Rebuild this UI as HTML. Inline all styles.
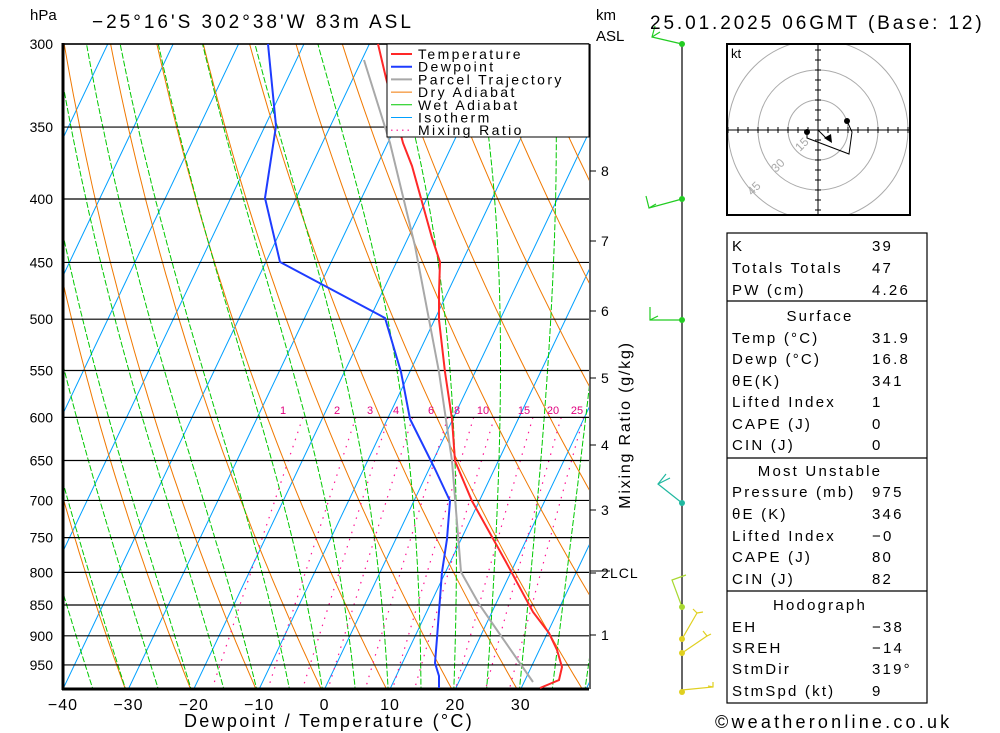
<!DOCTYPE html>
<html><head><meta charset="utf-8"><style>
body{margin:0;background:#fff;width:1000px;height:733px;overflow:hidden}
svg{display:block;font-family:"Liberation Sans",sans-serif}
</style></head><body>
<svg id="s" width="1000" height="733" viewBox="0 0 1000 733" xmlns="http://www.w3.org/2000/svg">
<defs><clipPath id="c"><rect x="63" y="44" width="526" height="645"/></clipPath></defs>
<g id="bg" clip-path="url(#c)"></g>
<g id="fg"></g>
<text x="30" y="20" font-size="15">hPa</text>
<text x="92" y="28" font-size="19" letter-spacing="3">−25°16'S 302°38'W 83m ASL</text>
<text x="596" y="20" font-size="15">km</text>
<text x="596" y="41" font-size="15">ASL</text>
<text x="650" y="29" font-size="19" letter-spacing="2.9">25.01.2025 06GMT (Base: 12)</text>
<text x="329" y="727" font-size="18" text-anchor="middle" letter-spacing="2.3">Dewpoint / Temperature (°C)</text>
<text x="715" y="728" font-size="18" letter-spacing="3.2">©weatheronline.co.uk</text>
<text transform="translate(630,425) rotate(-90)" font-size="16" text-anchor="middle" letter-spacing="1.8">Mixing Ratio (g/kg)</text>
</svg>
<script>
const NS="http://www.w3.org/2000/svg";
const bg=document.getElementById('bg'),fg=document.getElementById('fg'),S=document.getElementById('s');
function el(p,t,a,txt){const e=document.createElementNS(NS,t);for(const k in a)e.setAttribute(k,a[k]);if(txt!==undefined)e.textContent=txt;p.appendChild(e);return e;}
const Y=p=>44+538.7*Math.log(p/300);
const X=(T,p)=>63+(T+40)*6.54+0.475*(689-Y(p));
function poly(g,pts,st,w,dash){el(g,'polyline',{points:pts.map(q=>q[0].toFixed(1)+','+q[1].toFixed(1)).join(' '),fill:'none',stroke:st,'stroke-width':w,'stroke-dasharray':dash||'none'});}
for(let T=-150;T<=50;T+=10){poly(bg,[[X(T,1000),Y(1000)],[X(T,250),Y(250)]],'#00a0ff',1);}
for(let th=-60;th<=150;th+=10){const pts=[];for(let p=1000;p>=290;p-=10){const T=(th+273.15)*Math.pow(p/1000,0.286)-273.15;pts.push([X(T,p),Y(p)]);}poly(bg,pts,'#f07800',1);}
function es(T){return 6.112*Math.exp(17.67*T/(T+243.5));}
for(let tw=-40;tw<=40;tw+=5){let T=tw+273.15;const pts=[[X(tw,1000),Y(1000)]];for(let p=1000;p>290;p-=2){const e=es(T-273.15),rs=0.622*e/(p-e);const d=(287*T+2.5e6*rs)/(p*(1004+2.5e6*2.5e6*rs*0.622/(287*T*T)));T-=d*2;pts.push([X(T-273.15,p-2),Y(p-2)]);}poly(bg,pts,'#00c800',1,'6,2');}
[1,2,3,4,6,8,10,15,20,25].forEach(w=>{const pts=[];for(let p=600;p<=1000;p+=10){const e=w*p/(622+w),l=Math.log(e/6.112),T=243.5*l/(17.67-l);pts.push([X(T,p),Y(p)]);}poly(bg,pts,'#ff1493',1.2,'1.5,6');});
const lev=[300,350,400,450,500,550,600,650,700,750,800,850,900,950];
lev.forEach(p=>{el(fg,'line',{x1:63,x2:589,y1:Y(p),y2:Y(p),stroke:'#000','stroke-width':1.2});el(fg,'text',{x:53,y:Y(p)+5,'font-size':14,'text-anchor':'end'},String(p));});
el(fg,'line',{x1:63,x2:589,y1:44,y2:44,stroke:'#000','stroke-width':1.5});
el(fg,'line',{x1:63,x2:63,y1:43,y2:690,stroke:'#000','stroke-width':3});
el(fg,'line',{x1:62,x2:589,y1:689,y2:689,stroke:'#000','stroke-width':3});
for(let T=-40;T<=30;T+=10){el(fg,'text',{x:63+(T+40)*6.54,y:710,'font-size':16,'text-anchor':'middle','letter-spacing':'1'},T<0?'−'+(-T):String(T));}
[[1,283],[2,337],[3,370],[4,396],[6,431],[8,457],[10,483],[15,524],[20,553],[25,577]].forEach(a=>el(fg,'text',{x:a[1],y:414,'font-size':11,fill:'#e0007f','text-anchor':'middle'},String(a[0])));
const T=[[378,44],[386,78],[403,143],[412,166],[432,238],[440,262],[439,293],[439,320],[445,372],[452,419],[455,461],[472,501],[506,562],[533,612],[549,633],[557,650],[562,667],[559,680],[540,688]];
const D=[[268,44],[276,126],[265,198],[280,262],[385,318],[401,372],[410,419],[435,469],[450,501],[447,539],[442,572],[437,638],[435,663],[439,676],[439,688]];
const P=[[364,60],[390,143],[415,246],[439,372],[452,461],[461,572],[479,604],[499,633],[533,682]];
poly(fg,P,'#a8a8a8',2);poly(fg,T,'#ff2828',2);poly(fg,D,'#1e3cff',2);
el(fg,'rect',{x:387,y:44,width:202,height:93,fill:'#fff',stroke:'#000','stroke-width':1});
[['Temperature','#ff2828',2,''],['Dewpoint','#1e3cff',2,''],['Parcel Trajectory','#a8a8a8',2,''],['Dry Adiabat','#f07800',1,''],['Wet Adiabat','#00c800',1,''],['Isotherm','#00a0ff',1,''],['Mixing Ratio','#ff1493',1.2,'1.5,4']].forEach((a,i)=>{const y=54+i*12.7;el(fg,'line',{x1:391,x2:412,y1:y,y2:y,stroke:a[1],'stroke-width':a[2],'stroke-dasharray':a[3]||'none'});el(fg,'text',{x:418,y:y+5,'font-size':14,'letter-spacing':'2.4'},a[0]);});
el(fg,'line',{x1:590,x2:590,y1:44,y2:689,stroke:'#000','stroke-width':1.2});
[[8,171],[7,241],[6,311],[5,378],[4,445],[3,510],[2,573],[1,635]].forEach(a=>{el(fg,'line',{x1:590,x2:596,y1:a[1],y2:a[1],stroke:'#000'});el(fg,'text',{x:601,y:a[1]+5,'font-size':14},String(a[0]));});
el(fg,'line',{x1:590,x2:610,y1:571,y2:571,stroke:'#000'});
el(fg,'text',{x:610,y:578,'font-size':14,'letter-spacing':'1'},'LCL');
el(fg,'line',{x1:682,x2:682,y1:44,y2:690,stroke:'#000','stroke-width':1.2});
const B=[
 ['#22cc22',44,'682,44 652,37 655,26 M652,37 660,32'],
 ['#22cc22',199,'682,199 649,208 646,196 M649,208 656,204'],
 ['#22cc22',320,'682,320 650,320 650,307 M650,320 658,316'],
 ['#20b8a0',503,'682,503 658,484 666,474 M658,484 670,478'],
 ['#a8d830',607,'682,607 672,580 686,575'],
 ['#e0d020',639,'682,639 697,613 693,609 M697,613 703,612'],
 ['#e0d020',653,'682,653 707,636 703,631 M707,636 711,634'],
 ['#e0d020',692,'682,690 713,687 713,682 M713,687 708,686']];
B.forEach(b=>{b[2].split(' M').forEach(s=>el(fg,'polyline',{points:s,fill:'none',stroke:b[0],'stroke-width':1.2}));el(fg,'circle',{cx:682,cy:b[1],r:3,fill:b[0]});});
const H=el(fg,'g',{});
el(H,'defs',{}).innerHTML='<clipPath id="hc"><rect x="727" y="44" width="183" height="171"/></clipPath>';
const hg=el(H,'g',{'clip-path':'url(#hc)'});
[30,60,90].forEach(r=>el(hg,'circle',{cx:818,cy:130,r:r,fill:'none',stroke:'#aaa','stroke-width':1}));
el(hg,'line',{x1:727,x2:910,y1:130,y2:130,stroke:'#000'});el(hg,'line',{x1:818,x2:818,y1:44,y2:215,stroke:'#000'});
for(let k=-9;k<=9;k++){if(!k)continue;el(hg,'line',{x1:818+k*10,x2:818+k*10,y1:127,y2:133,stroke:'#000'});el(hg,'line',{x1:815,x2:821,y1:130+k*10,y2:130+k*10,stroke:'#000'});}
[[15,800,152],[30,776,173],[45,752,196]].forEach(a=>el(hg,'text',{x:a[1],y:a[2],'font-size':12,fill:'#aaa',transform:`rotate(-45 ${a[1]} ${a[2]})`},String(a[0])));
el(H,'polyline',{points:'807,132 807,138 849,154 852,132 847,121',fill:'none',stroke:'#000','stroke-width':1});
el(H,'line',{x1:818,y1:130,x2:828,y2:140,stroke:'#000'});
el(H,'polygon',{points:'824,138 831,134 832,143',fill:'#000'});
el(H,'circle',{cx:807,cy:132,r:3,fill:'#000'});el(H,'circle',{cx:847,cy:121,r:3,fill:'#000'});
el(H,'rect',{x:727,y:44,width:183,height:171,fill:'none',stroke:'#000','stroke-width':2});
el(H,'text',{x:731,y:58,'font-size':13},'kt');
el(fg,'rect',{x:727,y:233,width:200,height:470,fill:'none',stroke:'#000','stroke-width':1.2});
[301,458,591].forEach(y=>el(fg,'line',{x1:727,x2:927,y1:y,y2:y,stroke:'#000','stroke-width':1.2}));
const rows=[['K','39',246],['Totals Totals','47',268],['PW (cm)','4.26',290],['@Surface','',316],['Temp (°C)','31.9',338],['Dewp (°C)','16.8',359],['θE(K)','341',381],['Lifted Index','1',402],['CAPE (J)','0',424],['CIN (J)','0',445],['@Most Unstable','',471],['Pressure (mb)','975',492],['θE (K)','346',514],['Lifted Index','−0',536],['CAPE (J)','80',557],['CIN (J)','82',579],['@Hodograph','',605],['EH','−38',627],['SREH','−14',648],['StmDir','319°',669],['StmSpd (kt)','9',691]];
rows.forEach(r=>{if(r[0][0]=='@')el(fg,'text',{x:820,y:r[2]+5,'font-size':15,'text-anchor':'middle','letter-spacing':'2.2'},r[0].slice(1));else{el(fg,'text',{x:732,y:r[2]+5,'font-size':15,'letter-spacing':'2.2'},r[0]);el(fg,'text',{x:872,y:r[2]+5,'font-size':15,'letter-spacing':'2.2'},r[1]);}});
</script>
</body></html>
